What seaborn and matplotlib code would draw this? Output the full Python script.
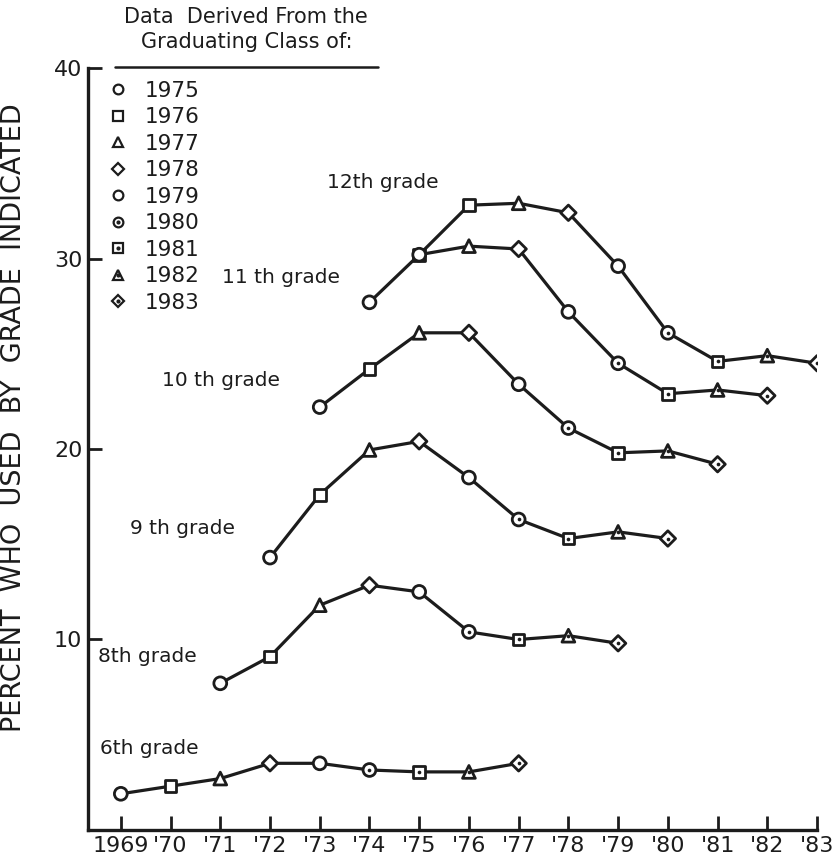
import pandas as pd
import matplotlib
matplotlib.use("Agg")
import matplotlib.pyplot as plt
from matplotlib.lines import Line2D
import seaborn as sns

# graduating classes (marker key) and x axis years
classes = [1975, 1976, 1977, 1978, 1979, 1980, 1981, 1982, 1983]
years = list(range(1969, 1984))
year_labels = ["1969"] + ["'" + str(y)[2:] for y in range(1970, 1984)]

# grade series: grade number, label text, first year of data
grade_nums = [6, 8, 9, 10, 11, 12]
grade_names = ["6th grade", "8th grade", "9 th grade", "10 th grade", "11 th grade", "12th grade"]
start_years = [1969, 1971, 1972, 1973, 1974, 1975]

pct_6 = [1.9, 2.3, 2.7, 3.5, 3.5, 3.15, 3.05, 3.05, 3.5]
pct_8 = [7.7, 9.1, 11.8, 12.85, 12.5, 10.4, 10.0, 10.2, 9.8]
pct_9 = [14.3, 17.6, 19.95, 20.4, 18.5, 16.3, 15.3, 15.65, 15.3]
pct_10 = [22.2, 24.2, 26.1, 26.1, 23.4, 21.1, 19.8, 19.9, 19.2]
pct_11 = [27.7, 30.2, 30.65, 30.5, 27.2, 24.5, 22.9, 23.1, 22.8]
pct_12 = [30.2, 32.8, 32.9, 32.4, 29.6, 26.1, 24.6, 24.9, 24.5]
all_pct = [pct_6, pct_8, pct_9, pct_10, pct_11, pct_12]

# where the grade labels sit (data coords)
label_pos = [(1968.58, 4.3), (1968.54, 9.1), (1969.18, 15.85),
             (1969.82, 23.6), (1971.03, 29.0), (1973.14, 34.0)]

markers = {1975: "o", 1976: "s", 1977: "^", 1978: "D", 1979: "o",
           1980: "o", 1981: "s", 1982: "^", 1983: "D"}
msizes = {1975: 85, 1976: 70, 1977: 85, 1978: 62, 1979: 85,
          1980: 85, 1981: 70, 1982: 85, 1983: 62}
dotted = [1980, 1981, 1982, 1983]

rows = []
for g, name, y0, vals in zip(grade_nums, grade_names, start_years, all_pct):
    for i, v in enumerate(vals):
        yr = y0 + i
        rows.append({"grade": name, "year": yr, "pct": v, "cls": yr + (12 - g)})
df = pd.DataFrame(rows)

sns.set_style("ticks")
plt.rcParams["font.family"] = ["DejaVu Sans"]
ink = "#1c1c1c"

fig = plt.figure(figsize=(8.38, 8.6), dpi=100)
ax = fig.add_axes([0.105, 0.0349, 0.87, 0.886])

sns.lineplot(data=df, x="year", y="pct", units="grade", estimator=None,
             color=ink, lw=2.3, ax=ax, zorder=2)
sns.scatterplot(data=df, x="year", y="pct", style="cls", markers=markers,
                size="cls", sizes=msizes, color="white", edgecolor=ink,
                linewidth=2.0, legend=False, ax=ax, zorder=3)
dots = df[df["cls"].isin(dotted)]
sns.scatterplot(data=dots, x="year", y="pct", color=ink, s=7, linewidth=0,
                legend=False, ax=ax, zorder=4)

for name, (lx, ly) in zip(grade_names, label_pos):
    ax.text(lx, ly, name, fontsize=14.5, color=ink, ha="left", va="center")

ax.set_xlim(1968.34, 1983)
ax.set_ylim(0, 40)
ax.set_xticks(years)
ax.set_xticklabels(year_labels)
ax.set_yticks([10, 20, 30, 40])
ax.tick_params(direction="in", length=10, width=2, labelsize=16, colors=ink, pad=4)
ax.set_xlabel("")
ax.set_ylabel("PERCENT  WHO  USED  BY  GRADE  INDICATED", fontsize=19.5, color=ink)
ax.yaxis.set_label_coords(-0.083, 0.541)
sns.despine(ax=ax)
for sp in ["left", "bottom"]:
    ax.spines[sp].set_linewidth(2.4)
    ax.spines[sp].set_color(ink)

# legend of graduating classes
handles = []
for c in classes:
    h = Line2D([], [], marker=markers[c], ls="none", mfc="white", mec=ink,
               mew=1.6, ms=7 if markers[c] != "D" else 6)
    if c in dotted:
        h = (h, Line2D([], [], marker="o", ls="none", color=ink, ms=2))
    handles.append(h)
fig.legend(handles, [str(c) for c in classes], loc="upper left",
           bbox_to_anchor=(0.128, 0.906), frameon=False, fontsize=15.5,
           handlelength=1.0, handletextpad=0.75, labelspacing=0.3,
           borderpad=0, borderaxespad=0, labelcolor=ink)

fig.text(0.294, 0.966, "Data  Derived From the\nGraduating Class of:",
         ha="center", va="center", fontsize=15, color=ink, linespacing=1.3)
fig.add_artist(Line2D([0.137, 0.451], [0.922, 0.922], color=ink, lw=1.8,
                      transform=fig.transFigure))

fig.savefig("out.png", dpi=100)
